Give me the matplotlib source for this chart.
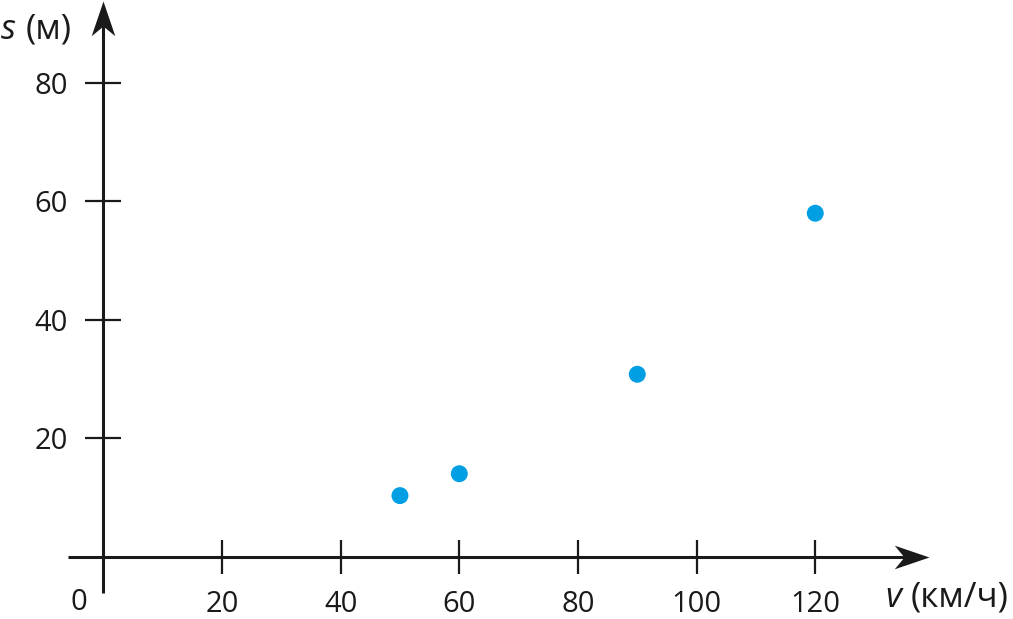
import matplotlib
matplotlib.use("Agg")
import matplotlib.pyplot as plt
from matplotlib.path import Path

# data
speed = [50, 60, 90, 120]          # v, km/h
distance = [10.3, 14, 30.8, 58]    # s, m
xticks = [20, 40, 60, 80, 100, 120]
yticks = [20, 40, 60, 80]
xlabel = "(км/ч)"
ylabel = "(м)"

plt.rcParams['font.family'] = ['Open Sans', 'DejaVu Sans']

W, H = 1013, 619
fig = plt.figure(figsize=(W / 100, H / 100), dpi=100)
ax = fig.add_axes([0, 0, 1, 1])
ax.set_axis_off()

# pixel mapping (origin at px (103.3, 556.6))
ox, oy = 103.3, 556.6
kx, ky = 5.933, 5.92
ax.set_xlim(-ox / kx, (W - ox) / kx)
ax.set_ylim((oy - H) / ky, oy / ky)


def px(x, y):
    return (x - ox) / kx, (oy - y) / ky


ink = '#1a1a1a'
# axes lines
x0, _ = px(68, 0)
x1, _ = px(920, 0)
_, y0 = px(0, 593)
_, y1 = px(0, 10)
ax.plot([x0, x1], [0, 0], color=ink, lw=2.2, solid_capstyle='butt', zorder=2)
ax.plot([0, 0], [y0, y1], color=ink, lw=2.2, solid_capstyle='butt', zorder=2)

# arrowheads (stealth style)
right = Path([(0, 0), (-1, 0.34), (-0.72, 0), (-1, -0.34), (0, 0)],
             [Path.MOVETO, Path.LINETO, Path.LINETO, Path.LINETO, Path.CLOSEPOLY])
up = Path([(0, 0), (0.34, -1), (0, -0.72), (-0.34, -1), (0, 0)],
          [Path.MOVETO, Path.LINETO, Path.LINETO, Path.LINETO, Path.CLOSEPOLY])
tipx, _ = px(929, 0)
_, tipy = px(0, 1)
ax.plot([tipx], [0], marker=right, ms=50, color=ink, mew=0, ls='none', zorder=3)
ax.plot([0], [tipy], marker=up, ms=50, color=ink, mew=0, ls='none', zorder=3)

# ticks
ax.plot(xticks, [0] * len(xticks), marker='|', ms=25, mew=1.6, color=ink,
        ls='none', zorder=2)
ax.plot([0] * len(yticks), yticks, marker='_', ms=26, mew=1.6, color=ink,
        ls='none', zorder=2)

fs = 21
_, ylab = px(0, 612)
for t in xticks:
    ax.text(t, ylab, str(t), ha='center', va='baseline', fontsize=fs, color=ink)
xl, _ = px(68, 0)
for t in yticks:
    ax.text(xl, t - 11 / ky, str(t), ha='right', va='baseline', fontsize=fs, color=ink)
zx, zy = px(79, 610)
ax.text(zx, zy, "0", ha='center', va='baseline', fontsize=fs, color=ink)

# axis titles
tfs = 25
sx, sy = px(1, 39)
ax.text(sx, sy, "s", ha='left', va='baseline', fontsize=tfs, style='italic', color=ink)
mx, _ = px(26, 0)
ax.text(mx, sy, ylabel, ha='left', va='baseline', fontsize=tfs, color=ink)
vx, vy = px(893, 607)
ax.text(vx, vy, "v", ha='center', va='baseline', fontsize=tfs, style='italic', color=ink)
kx2, _ = px(911, 0)
ax.text(kx2, vy, xlabel, ha='left', va='baseline', fontsize=tfs, color=ink)

# data points
ax.scatter(speed, distance, s=12.2 ** 2, color='#009fe3', edgecolors='none', zorder=4)

fig.savefig("out.png", dpi=100)
